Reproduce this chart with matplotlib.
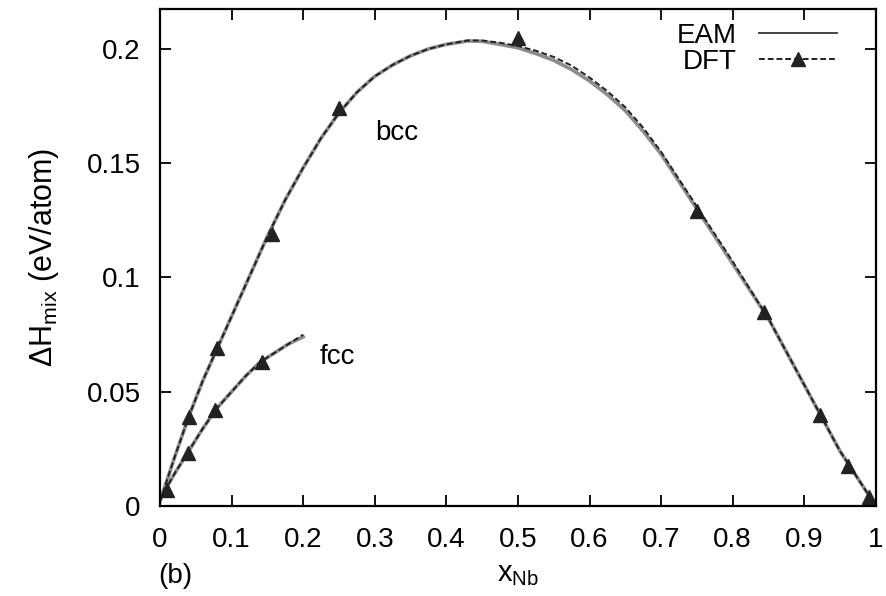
import matplotlib
matplotlib.use('Agg')
import matplotlib.pyplot as plt
from matplotlib.ticker import FuncFormatter

plt.rcParams['font.family'] = ['Liberation Sans', 'DejaVu Sans']
plt.rcParams['mathtext.fontset'] = 'custom'
plt.rcParams['mathtext.rm'] = 'Liberation Sans'
plt.rcParams['mathtext.it'] = 'Liberation Sans'

# EAM / DFT curves
bcc_x = [0.0, 0.02, 0.04, 0.06, 0.08, 0.1, 0.12, 0.15, 0.175, 0.2, 0.225,
         0.25, 0.275, 0.3, 0.325, 0.35, 0.375, 0.4, 0.43, 0.45, 0.475, 0.5,
         0.525, 0.55, 0.575, 0.6, 0.625, 0.65, 0.675, 0.7, 0.725, 0.75, 0.8,
         0.85, 0.9, 0.95, 1.0]
bcc_eam = [0.002, 0.021, 0.039, 0.055, 0.069, 0.083, 0.097, 0.118, 0.134,
           0.148, 0.161, 0.172, 0.181, 0.188, 0.193, 0.197, 0.2, 0.202,
           0.2035, 0.2033, 0.202, 0.2005, 0.198, 0.195, 0.191, 0.186, 0.18,
           0.173, 0.164, 0.154, 0.142, 0.130, 0.106, 0.082, 0.053, 0.024, 0.0]
bcc_dft = [0.002, 0.021, 0.039, 0.055, 0.069, 0.083, 0.097, 0.118, 0.134,
           0.148, 0.161, 0.172, 0.181, 0.188, 0.193, 0.197, 0.2, 0.202,
           0.2037, 0.2037, 0.2027, 0.2013, 0.1992, 0.1965, 0.1927, 0.1875,
           0.1815, 0.1745, 0.1655, 0.155, 0.143, 0.131, 0.107, 0.082, 0.053,
           0.024, 0.0]

fcc_x = [0.0, 0.02, 0.04, 0.06, 0.08, 0.1, 0.12, 0.14, 0.16, 0.18, 0.2]
fcc_eam = [0.003, 0.014, 0.024, 0.034, 0.043, 0.050, 0.057, 0.063, 0.067,
           0.071, 0.074]
fcc_dft = [0.003, 0.014, 0.024, 0.034, 0.043, 0.050, 0.057, 0.063, 0.067,
           0.071, 0.075]

# DFT data points
bcc_pts_x = [0.01, 0.04, 0.08, 0.156, 0.25, 0.5, 0.75, 0.844, 0.922, 0.961, 0.99]
bcc_pts_y = [0.007, 0.039, 0.069, 0.119, 0.174, 0.205, 0.129, 0.085, 0.040,
             0.0175, 0.004]
fcc_pts_x = [0.039, 0.077, 0.142]
fcc_pts_y = [0.023, 0.042, 0.063]

fig = plt.figure(figsize=(8.87, 5.96), dpi=100)
ax = fig.add_axes([0.1804, 0.151, 0.807, 0.834])

gray = '#8c8c8c'
dark = '#222222'
dash = (0, (3, 1.5))
ax.plot(bcc_x, bcc_eam, color=gray, lw=2.6)
ax.plot(fcc_x, fcc_eam, color=gray, lw=2.6)
ax.plot(bcc_x, bcc_dft, color=dark, lw=1.4, ls=dash)
ax.plot(fcc_x, fcc_dft, color=dark, lw=1.4, ls=dash)
ax.plot(bcc_pts_x, bcc_pts_y, ls='none', marker='^', ms=10, color=dark)
ax.plot(fcc_pts_x, fcc_pts_y, ls='none', marker='^', ms=10, color=dark)

# legend handles
h_eam = plt.Line2D([], [], color='#444444', lw=1.4)
h_dft = plt.Line2D([], [], color=dark, lw=1.4, ls=dash, marker='^', ms=10)
ax.legend([h_eam, h_dft], ['EAM', 'DFT'], loc='upper right', frameon=False,
          markerfirst=False, fontsize=20, handlelength=2.8, handletextpad=0.8,
          borderaxespad=0.1, labelspacing=0.0, bbox_to_anchor=(0.965, 1.0))

ax.text(0.30, 0.160, 'bcc', fontsize=20)
ax.text(0.223, 0.062, 'fcc', fontsize=20)

ax.set_xlim(0, 1)
ax.set_ylim(0, 0.2175)
ax.set_xticks([i / 10 for i in range(11)])
ax.set_yticks([0, 0.05, 0.1, 0.15, 0.2])
fmt = FuncFormatter(lambda v, p: '%g' % round(v, 2))
ax.xaxis.set_major_formatter(fmt)
ax.yaxis.set_major_formatter(fmt)
ax.tick_params(direction='in', length=8, width=1.3, top=True, right=True,
               labelsize=20)
ax.tick_params(axis='x', pad=15)
ax.tick_params(axis='y', pad=14)
for s in ax.spines.values():
    s.set_linewidth(1.6)

ax.set_xlabel(r'x$_\mathregular{Nb}$', fontsize=21, labelpad=5)
ax.set_ylabel(r'$\Delta$H$_\mathregular{mix}$ (eV/atom)', fontsize=22, labelpad=18)
fig.text(0.178, 0.022, '(b)', fontsize=20)

fig.savefig('out.png', dpi=100)
